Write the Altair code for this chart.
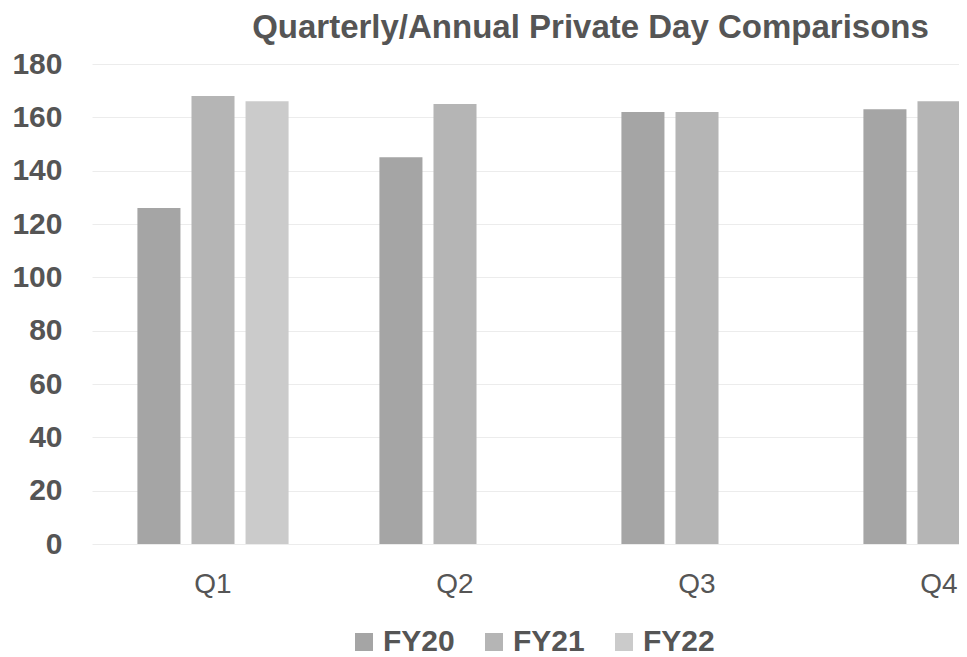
import altair as alt
import pandas as pd

quarters = ["Q1", "Q2", "Q3", "Q4"]
fy20 = [126, 145, 162, 163]
fy21 = [168, 165, 162, 166]
fy22 = [166, None, None, None]
series = ["FY20", "FY21", "FY22"]
colors = ["#a5a5a5", "#b5b5b5", "#cbcbcb"]

rows = []
for name, vals in zip(series, [fy20, fy21, fy22]):
    for q, v in zip(quarters, vals):
        if v is not None:
            rows.append({"Quarter": q, "Year": name, "Days": v})
df = pd.DataFrame(rows)

text_color = "#555555"

chart = alt.Chart(df).mark_bar(clip=True).encode(
    x=alt.X("Quarter:N", sort=quarters,
            scale=alt.Scale(domain=quarters, range=[0, 968], paddingInner=0, paddingOuter=0),
            axis=alt.Axis(title=None, labelAngle=0, ticks=False, domain=False,
                          labelFontSize=28, labelColor=text_color, labelFont="Liberation Sans",
                          labelPadding=26)),
    xOffset=alt.XOffset("Year:N", sort=series,
                        scale=alt.Scale(domain=series, paddingInner=0.204, paddingOuter=0.84)),
    y=alt.Y("Days:Q", scale=alt.Scale(domain=[0, 180]),
            axis=alt.Axis(title=None, values=list(range(0, 181, 20)), ticks=False, domain=False,
                          labelFontSize=30, labelFontWeight="bold", labelColor=text_color,
                          labelFont="Liberation Sans", labelPadding=30,
                          gridColor="#ececec", gridWidth=1)),
    color=alt.Color("Year:N", sort=series,
                    scale=alt.Scale(domain=series, range=colors),
                    legend=alt.Legend(title=None, orient="none", direction="horizontal",
                                      legendX=257, legendY=563,
                                      symbolType="square", symbolSize=324, symbolStrokeWidth=0,
                                      labelFontSize=30, labelFontWeight="bold",
                                      labelColor=text_color, labelFont="Liberation Sans",
                                      labelOffset=4, columnPadding=24)),
).properties(
    width=867,
    height=480,
    title=alt.TitleParams("Quarterly/Annual Private Day Comparisons",
                          fontSize=33, fontWeight="bold", color=text_color,
                          font="Liberation Sans", anchor="middle", dx=65, offset=4),
    autosize=alt.AutoSizeParams(type="none"),
    padding={"left": 84, "top": 56, "right": 0, "bottom": 112},
).configure_view(stroke=None)

chart.save("out.html", embed_options={"renderer": "svg", "actions": False})
